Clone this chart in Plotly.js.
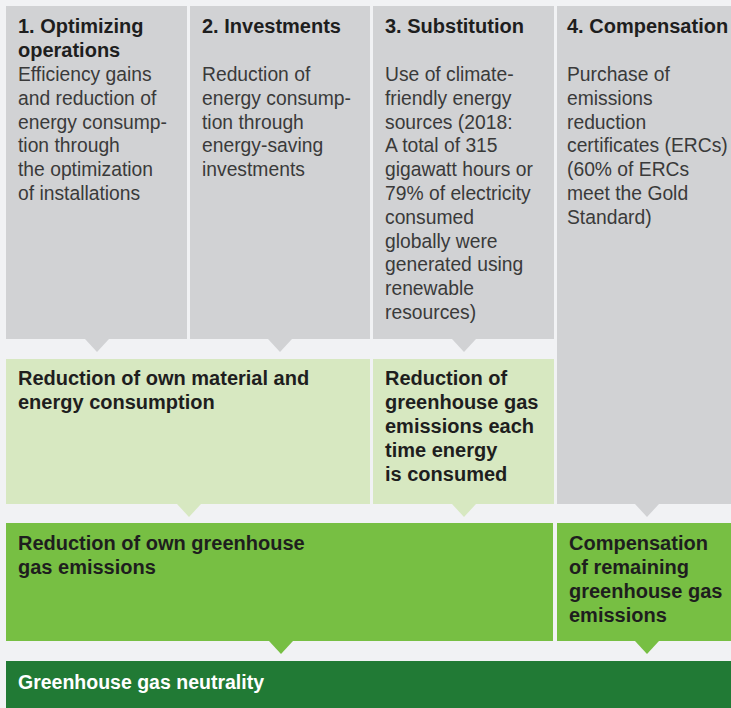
<!DOCTYPE html>
<html>
<head>
<meta charset="utf-8">
<script src="https://cdn.plot.ly/plotly-3.0.1.min.js"></script>
<style>html,body{margin:0;padding:0;background:#f1f2f4;}#chart{width:731px;height:708px;}</style>
</head>
<body>
<div id="chart"></div>
<script>
// ---------- content ----------
const topHeaders = [
  ["1. Optimizing", "operations"],
  ["2. Investments"],
  ["3. Substitution"],
  ["4. Compensation"]
];
const topBodies = [
  ["Efficiency gains", "and reduction of", "energy consump-", "tion through", "the optimization", "of installations"],
  ["Reduction of", "energy consump-", "tion through", "energy-saving", "investments"],
  ["Use of climate-", "friendly energy", "sources (2018:", "A total of 315", "gigawatt hours or", "79% of electricity", "consumed", "globally were", "generated using", "renewable", "resources)"],
  ["Purchase of", "emissions", "reduction", "certificates (ERCs)", "(60% of ERCs", "meet the Gold", "Standard)"]
];
const midTexts = [
  ["Reduction of own material and", "energy consumption"],
  ["Reduction of", "greenhouse gas", "emissions each", "time energy", "is consumed"]
];
const greenTexts = [
  ["Reduction of own greenhouse", "gas emissions"],
  ["Compensation", "of remaining", "greenhouse gas", "emissions"]
];
const finalTexts = ["Greenhouse gas neutrality"];

// ---------- geometry (pixel-like data units) ----------
const topX0 = [6, 190, 373, 557], topX1 = [187, 370, 554, 740], topY1 = [339, 339, 339, 504];
const topTextX = [16, 200, 383, 565];
const midX0 = [6, 373], midX1 = [370, 554];
const midTextX = [16, 383];
const grnX0 = [6, 557], grnX1 = [553, 740];
const grnTextX = [16, 567];
const triTop = [97, 280, 464], triMid = [189, 464, 647], triGrn = [281, 647];

const C = {bg:"#f1f2f4", gray:"#d1d2d4", light:"#d7e8c1", green:"#77bf43", dark:"#217a35",
           head:"#1e1e1e", body:"#3a3a3a", white:"#ffffff"};
const FONT = "Liberation Sans, Arial, Helvetica, sans-serif";

const shapes = [], ann = [];
function rect(x0, x1, y0, y1, col) {
  shapes.push({type:"rect", xref:"x", yref:"y", x0, x1, y0, y1, fillcolor:col, line:{width:0}, layer:"below"});
}
function tri(cx, yb, col) {
  shapes.push({type:"path", xref:"x", yref:"y", path:`M ${cx-12},${yb} L ${cx+12},${yb} L ${cx},${yb+13} Z`,
               fillcolor:col, line:{width:0}, layer:"below"});
}
function line(txt, x, y, size, col, bold) {
  ann.push({xref:"x", yref:"y", x, y, text: bold ? "<b>"+txt+"</b>" : txt, showarrow:false,
            xanchor:"left", yanchor:"middle", font:{family:FONT, size, color:col}});
}

// top row
for (let i = 0; i < 4; i++) {
  rect(topX0[i], topX1[i], 6, topY1[i], C.gray);
  topHeaders[i].forEach((t, k) => line(t, topTextX[i], 26 + 23.8*k, 20, C.head, true));
  topBodies[i].forEach((t, k) => line(t, topTextX[i], 74.5 + 23.8*k, 19.3, C.body, false));
}
triTop.forEach(cx => tri(cx, 339, C.gray));
// middle row
for (let i = 0; i < 2; i++) {
  rect(midX0[i], midX1[i], 359, 504, C.light);
  midTexts[i].forEach((t, k) => line(t, midTextX[i], 377.5 + 24.2*k, 20, C.head, true));
}
tri(triMid[0], 504, C.light); tri(triMid[1], 504, C.light); tri(triMid[2], 504, C.gray);
// green row
for (let i = 0; i < 2; i++) {
  rect(grnX0[i], grnX1[i], 523, 641, C.green);
  greenTexts[i].forEach((t, k) => line(t, grnTextX[i], 543 + 24*k, 20, C.head, true));
}
triGrn.forEach(cx => tri(cx, 641, C.green));
// bottom
rect(6, 740, 661, 720, C.dark);
finalTexts.forEach((t, k) => line(t, 16, 682 + 24*k, 19.5, C.white, true));

Plotly.newPlot("chart", [{x:[], y:[], type:"scatter", mode:"markers", hoverinfo:"skip", showlegend:false}], {
  width:731, height:708, margin:{l:0, r:0, t:0, b:0},
  paper_bgcolor:C.bg, plot_bgcolor:C.bg, showlegend:false,
  xaxis:{range:[0,731], visible:false, fixedrange:true},
  yaxis:{range:[708,0], visible:false, fixedrange:true},
  shapes, annotations:ann
}, {staticPlot:true, displayModeBar:false});
</script>
</body>
</html>
